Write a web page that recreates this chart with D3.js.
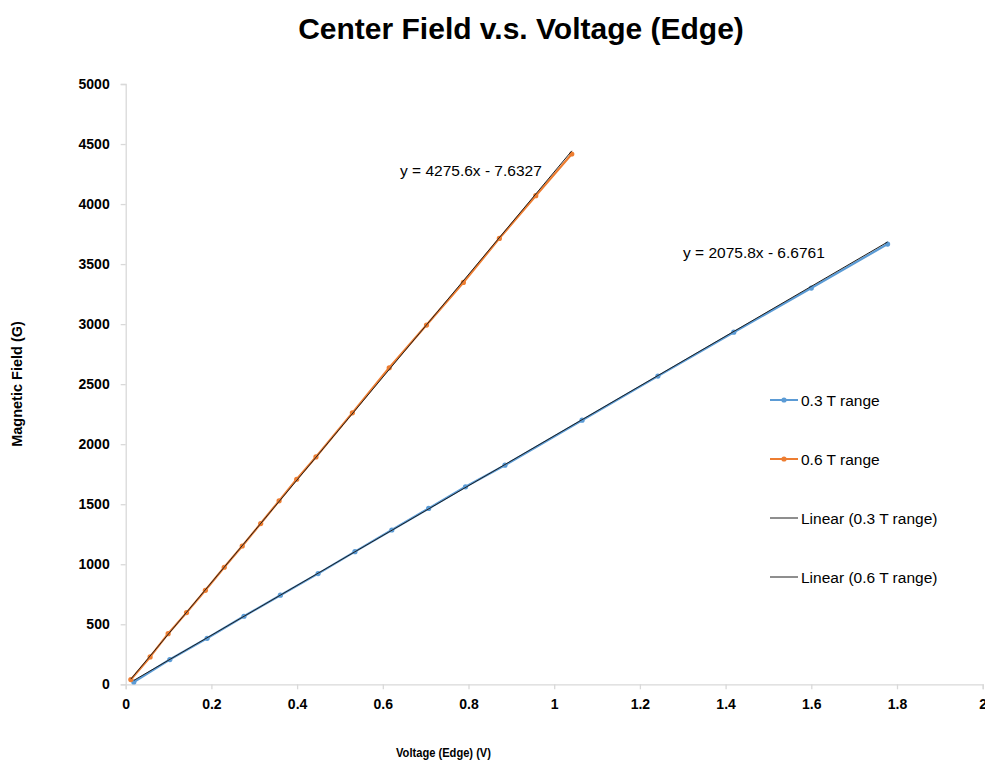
<!DOCTYPE html>
<html>
<head>
<meta charset="utf-8">
<script src="https://cdn.jsdelivr.net/npm/d3@7"></script>
<style>
  html, body { margin: 0; padding: 0; background: #fff; }
  svg { display: block; font-family: "Liberation Sans", Arial, sans-serif; }
</style>
</head>
<body>
<svg id="chart" width="985" height="763"></svg>
<script>
// Measured field vs. edge voltage, two probe ranges
const voltage03 = [0.019, 0.103, 0.190, 0.276, 0.361, 0.449, 0.535, 0.621, 0.707, 0.793, 0.885, 1.065, 1.242, 1.419, 1.600, 1.778];
const field03   = [19, 206, 383, 567, 742, 922, 1105, 1285, 1465, 1645, 1825, 2200, 2567, 2933, 3300, 3667];

const voltage06 = [0.012, 0.057, 0.099, 0.142, 0.186, 0.230, 0.272, 0.315, 0.358, 0.399, 0.444, 0.529, 0.615, 0.702, 0.788, 0.872, 0.957, 1.041];
const field06   = [39, 228, 422, 597, 783, 975, 1152, 1339, 1528, 1708, 1894, 2261, 2636, 2992, 3347, 3714, 4070, 4417];

// Linear fit coefficients (y = m x + b)
const fitSlope     = [2075.8, 4275.6];
const fitIntercept = [-6.6761, -7.6327];

const seriesNames = ["0.3 T range", "0.6 T range"];
const trendNames  = ["Linear (0.3 T range)", "Linear (0.6 T range)"];
const xTicks = [0, 0.2, 0.4, 0.6, 0.8, 1, 1.2, 1.4, 1.6, 1.8, 2];
const yTicks = [0, 500, 1000, 1500, 2000, 2500, 3000, 3500, 4000, 4500, 5000];

const colors = ["#5b9bd5", "#ed7d31"];
const trendColor = "#1f1f1f";
const axisColor = "#d9d9d9";

const svg = d3.select("#chart");

const x = d3.scaleLinear().domain([0, 2]).range([125.7, 982.7]);
const y = d3.scaleLinear().domain([0, 5000]).range([684.3, 84]);

// Title
svg.append("text")
  .attr("x", 521).attr("y", 39)
  .attr("text-anchor", "middle")
  .attr("font-size", 30).attr("font-weight", "bold")
  .attr("fill", "#000")
  .text("Center Field v.s. Voltage (Edge)");

// Axes
const yAxis = svg.append("g")
  .attr("transform", `translate(${x(0)},0)`)
  .call(d3.axisLeft(y).tickValues(yTicks).tickSize(5).tickPadding(11).tickFormat(d3.format("d")));
const xAxis = svg.append("g")
  .attr("transform", `translate(0,${y(0)})`)
  .call(d3.axisBottom(x).tickValues(xTicks).tickSize(5).tickPadding(10).tickFormat(d => d3.format("")(d)));

[yAxis, xAxis].forEach(g => {
  g.select(".domain").attr("stroke", axisColor).attr("stroke-width", 1.3);
  g.selectAll(".tick line").attr("stroke", axisColor).attr("stroke-width", 1.3);
  g.selectAll(".tick text")
    .attr("fill", "#000").attr("font-size", 14).attr("font-weight", "bold")
    .attr("font-family", "\"Liberation Sans\", Arial, sans-serif");
});

// Axis titles
svg.append("text")
  .attr("transform", "translate(22,384) rotate(-90)")
  .attr("text-anchor", "middle")
  .attr("font-size", 14.5).attr("font-weight", "bold")
  .text("Magnetic Field (G)");
svg.append("text")
  .attr("x", 396).attr("y", 757)
  .attr("font-size", 13.5).attr("font-weight", "bold")
  .attr("textLength", 95).attr("lengthAdjust", "spacingAndGlyphs")
  .text("Voltage (Edge) (V)");

// Data series
const series = [
  voltage03.map((v, i) => [v, field03[i]]),
  voltage06.map((v, i) => [v, field06[i]])
];

const line = d3.line().x(d => x(d[0])).y(d => y(d[1]));

series.forEach((pts, k) => {
  svg.append("path")
    .datum(pts)
    .attr("fill", "none")
    .attr("stroke", colors[k])
    .attr("stroke-width", 2.25)
    .attr("stroke-linejoin", "round")
    .attr("d", line);
  svg.append("g").selectAll("circle")
    .data(pts).join("circle")
    .attr("cx", d => x(d[0])).attr("cy", d => y(d[1]))
    .attr("r", 2.6)
    .attr("fill", colors[k]);
});

// Trendlines over each series' x range
series.forEach((pts, k) => {
  const [x0, x1] = d3.extent(pts, d => d[0]);
  const fit = [x0, x1].map(v => [v, fitSlope[k] * v + fitIntercept[k]]);
  svg.append("path")
    .datum(fit)
    .attr("fill", "none")
    .attr("stroke", trendColor)
    .attr("stroke-width", 1)
    .attr("d", line);
});

// Fit equations
const fmtEq = (m, b) => `y = ${m}x ${b < 0 ? "-" : "+"} ${Math.abs(b)}`;
const eqPos = [[683, 258], [400, 176]];
[0, 1].forEach(k => {
  svg.append("text")
    .attr("x", eqPos[k][0]).attr("y", eqPos[k][1])
    .attr("font-size", 15.5).attr("fill", "#000")
    .text(fmtEq(fitSlope[k], fitIntercept[k]));
});

// Legend
const legendItems = [
  { name: seriesNames[0], color: colors[0], marker: true, width: 2 },
  { name: seriesNames[1], color: colors[1], marker: true, width: 2 },
  { name: trendNames[0], color: trendColor, marker: false, width: 1 },
  { name: trendNames[1], color: trendColor, marker: false, width: 1 }
];
const legendY = [400, 459, 518, 577];
const lg = svg.append("g");
legendItems.forEach((it, i) => {
  const g = lg.append("g").attr("transform", `translate(770,${legendY[i]})`);
  g.append("line").attr("x1", 0).attr("x2", 28).attr("y1", 0).attr("y2", 0)
    .attr("stroke", it.color).attr("stroke-width", it.width);
  if (it.marker) g.append("circle").attr("cx", 14).attr("cy", 0).attr("r", 2.6).attr("fill", it.color);
  g.append("text").attr("x", 31).attr("y", 5.5)
    .attr("font-size", 15.5).attr("fill", "#000")
    .text(it.name);
});
</script>
</body>
</html>
